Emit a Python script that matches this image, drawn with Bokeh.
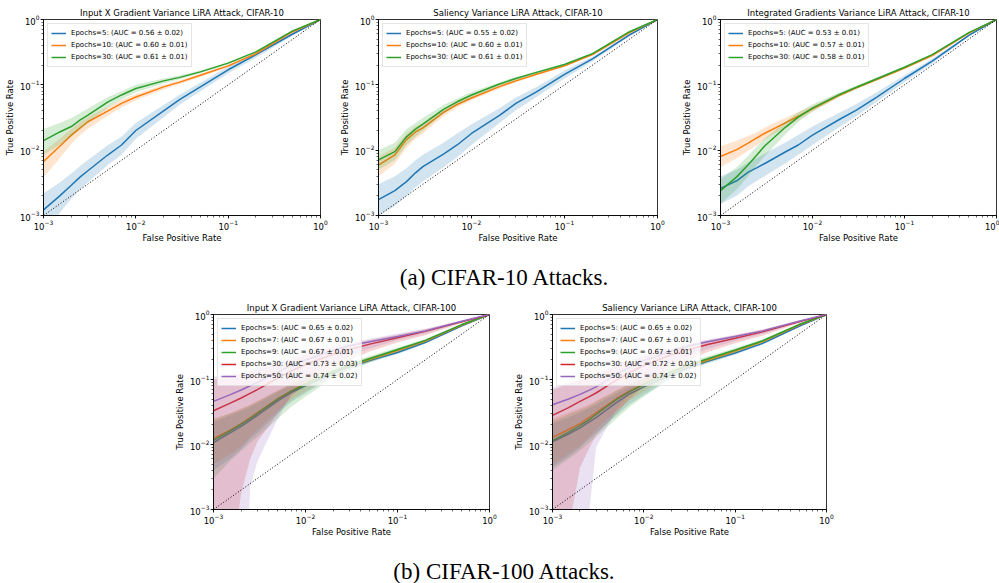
from bokeh.plotting import figure
from bokeh.models import Range1d, Div, Spacer
from bokeh.layouts import column, row
from bokeh.embed import file_html
from bokeh.resources import INLINE

# ---------------- data ----------------
FPR = [0.001, 0.0015, 0.002, 0.0025, 0.003, 0.005, 0.007, 0.01, 0.02, 0.03, 0.05, 0.1, 0.2, 0.5, 1.0]
DIAG = [0.001, 1.0]

# Plot 1: Input X Gradient, CIFAR-10
P1_E5_MEAN = [1.22e-3, 2.0e-3, 2.9e-3, 3.9e-3, 4.8e-3, 8.5e-3, 0.012, 0.020, 0.040, 0.060, 0.093, 0.17, 0.29, 0.6, 1.0]
P1_E5_LO = [5e-4, 1.1e-3, 1.8e-3, 2.5e-3, 3.2e-3, 6e-3, 8.5e-3, 0.015, 0.032, 0.05, 0.08, 0.15, 0.26, 0.57, 1.0]
P1_E5_HI = [2.2e-3, 3.2e-3, 4.4e-3, 5.7e-3, 7e-3, 0.012, 0.016, 0.026, 0.049, 0.071, 0.108, 0.19, 0.31, 0.63, 1.0]
P1_E10_MEAN = [6.7e-3, 0.0115, 0.017, 0.022, 0.027, 0.040, 0.052, 0.065, 0.093, 0.11, 0.14, 0.195, 0.30, 0.65, 1.0]
P1_E10_LO = [3.8e-3, 7.5e-3, 0.0125, 0.017, 0.021, 0.034, 0.045, 0.058, 0.085, 0.103, 0.132, 0.186, 0.29, 0.64, 1.0]
P1_E10_HI = [9.5e-3, 0.015, 0.021, 0.027, 0.032, 0.046, 0.059, 0.072, 0.1, 0.118, 0.148, 0.204, 0.31, 0.66, 1.0]
P1_E30_MEAN = [0.014, 0.019, 0.023, 0.029, 0.034, 0.055, 0.07, 0.088, 0.115, 0.13, 0.158, 0.215, 0.32, 0.67, 1.0]
P1_E30_LO = [8.5e-3, 0.012, 0.016, 0.021, 0.026, 0.045, 0.06, 0.077, 0.105, 0.122, 0.15, 0.207, 0.31, 0.66, 1.0]
P1_E30_HI = [0.021, 0.026, 0.031, 0.037, 0.043, 0.065, 0.08, 0.1, 0.125, 0.14, 0.166, 0.224, 0.33, 0.68, 1.0]
P1_LABELS = ["Epochs=5: (AUC = 0.56 \u00b1 0.02)", "Epochs=10: (AUC = 0.60 \u00b1 0.01)", "Epochs=30: (AUC = 0.61 \u00b1 0.01)"]

# Plot 2: Saliency, CIFAR-10
P2_E5_MEAN = [1.75e-3, 2.4e-3, 3.3e-3, 4.5e-3, 5.6e-3, 8.7e-3, 0.012, 0.018, 0.034, 0.052, 0.078, 0.145, 0.25, 0.58, 1.0]
P2_E5_LO = [1.0e-3, 1.4e-3, 2.0e-3, 2.7e-3, 3.3e-3, 5.5e-3, 7.8e-3, 0.012, 0.026, 0.041, 0.065, 0.125, 0.23, 0.55, 1.0]
P2_E5_HI = [3.0e-3, 4.0e-3, 5.3e-3, 7e-3, 8.5e-3, 0.013, 0.018, 0.025, 0.044, 0.064, 0.093, 0.165, 0.27, 0.61, 1.0]
P2_E10_MEAN = [5.9e-3, 8.5e-3, 0.0145, 0.019, 0.022, 0.038, 0.05, 0.063, 0.094, 0.115, 0.145, 0.195, 0.29, 0.63, 1.0]
P2_E10_LO = [4.0e-3, 6.2e-3, 0.011, 0.015, 0.018, 0.033, 0.045, 0.058, 0.088, 0.109, 0.139, 0.189, 0.285, 0.62, 1.0]
P2_E10_HI = [8.0e-3, 0.011, 0.018, 0.023, 0.026, 0.043, 0.055, 0.068, 0.1, 0.121, 0.151, 0.201, 0.3, 0.64, 1.0]
P2_E30_MEAN = [7.1e-3, 9.5e-3, 0.016, 0.021, 0.025, 0.042, 0.055, 0.07, 0.103, 0.125, 0.155, 0.205, 0.30, 0.65, 1.0]
P2_E30_LO = [5.0e-3, 7.0e-3, 0.012, 0.016, 0.02, 0.036, 0.049, 0.063, 0.096, 0.118, 0.148, 0.198, 0.295, 0.64, 1.0]
P2_E30_HI = [0.01, 0.013, 0.021, 0.026, 0.031, 0.049, 0.062, 0.078, 0.11, 0.132, 0.162, 0.212, 0.31, 0.66, 1.0]
P2_LABELS = ["Epochs=5: (AUC = 0.55 \u00b1 0.02)", "Epochs=10: (AUC = 0.60 \u00b1 0.01)", "Epochs=30: (AUC = 0.61 \u00b1 0.01)"]

# Plot 3: Integrated Gradients, CIFAR-10
P3_E5_MEAN = [2.6e-3, 3.4e-3, 4.6e-3, 5.4e-3, 6.2e-3, 9.3e-3, 0.012, 0.017, 0.030, 0.041, 0.065, 0.125, 0.23, 0.57, 1.0]
P3_E5_LO = [1.5e-3, 2.0e-3, 2.8e-3, 3.4e-3, 4.0e-3, 6.2e-3, 8.5e-3, 0.012, 0.023, 0.033, 0.055, 0.11, 0.21, 0.55, 1.0]
P3_E5_HI = [4.0e-3, 5.0e-3, 6.5e-3, 7.6e-3, 8.8e-3, 0.013, 0.017, 0.023, 0.038, 0.051, 0.077, 0.14, 0.25, 0.59, 1.0]
P3_E10_MEAN = [8.0e-3, 0.0102, 0.0128, 0.0155, 0.018, 0.026, 0.033, 0.043, 0.07, 0.09, 0.12, 0.18, 0.28, 0.62, 1.0]
P3_E10_LO = [5.5e-3, 7.5e-3, 9.8e-3, 0.012, 0.0145, 0.022, 0.029, 0.039, 0.066, 0.086, 0.116, 0.175, 0.275, 0.61, 1.0]
P3_E10_HI = [0.0115, 0.014, 0.0165, 0.019, 0.022, 0.031, 0.038, 0.048, 0.075, 0.095, 0.125, 0.186, 0.285, 0.63, 1.0]
P3_E30_MEAN = [2.4e-3, 3.9e-3, 6.0e-3, 8.5e-3, 0.0115, 0.022, 0.032, 0.044, 0.072, 0.092, 0.124, 0.186, 0.29, 0.63, 1.0]
P3_E30_LO = [1.5e-3, 2.5e-3, 4.0e-3, 6e-3, 8.0e-3, 0.017, 0.027, 0.039, 0.067, 0.087, 0.118, 0.18, 0.285, 0.62, 1.0]
P3_E30_HI = [3.6e-3, 5.5e-3, 8.2e-3, 0.0115, 0.015, 0.027, 0.038, 0.05, 0.078, 0.098, 0.13, 0.192, 0.295, 0.64, 1.0]
P3_LABELS = ["Epochs=5: (AUC = 0.53 \u00b1 0.01)", "Epochs=10: (AUC = 0.57 \u00b1 0.01)", "Epochs=30: (AUC = 0.58 \u00b1 0.01)"]

# Plot 4: Input X Gradient, CIFAR-100
P4_E5_MEAN = [0.0107, 0.015, 0.019, 0.0235, 0.028, 0.047, 0.063, 0.08, 0.125, 0.155, 0.195, 0.26, 0.37, 0.67, 1.0]
P4_E5_LO = [0.004, 0.006, 0.0085, 0.012, 0.015, 0.03, 0.045, 0.062, 0.11, 0.14, 0.182, 0.245, 0.355, 0.65, 1.0]
P4_E5_HI = [0.022, 0.028, 0.033, 0.038, 0.043, 0.064, 0.08, 0.097, 0.14, 0.17, 0.21, 0.275, 0.385, 0.69, 1.0]
P4_E7_MEAN = [0.0124, 0.0165, 0.021, 0.026, 0.031, 0.051, 0.067, 0.086, 0.132, 0.163, 0.205, 0.28, 0.39, 0.69, 1.0]
P4_E7_LO = [0.005, 0.007, 0.0095, 0.013, 0.017, 0.033, 0.048, 0.066, 0.115, 0.147, 0.19, 0.262, 0.372, 0.67, 1.0]
P4_E7_HI = [0.025, 0.03, 0.036, 0.041, 0.047, 0.068, 0.085, 0.104, 0.148, 0.178, 0.22, 0.297, 0.405, 0.71, 1.0]
P4_E9_MEAN = [0.0117, 0.016, 0.0205, 0.025, 0.03, 0.05, 0.066, 0.085, 0.133, 0.166, 0.21, 0.29, 0.40, 0.70, 1.0]
P4_E9_LO = [0.003, 0.0055, 0.008, 0.0105, 0.013, 0.025, 0.038, 0.055, 0.105, 0.14, 0.185, 0.265, 0.375, 0.68, 1.0]
P4_E9_HI = [0.024, 0.03, 0.035, 0.04, 0.046, 0.068, 0.086, 0.106, 0.155, 0.185, 0.23, 0.31, 0.42, 0.72, 1.0]
P4_E30_MEAN = [0.033, 0.043, 0.052, 0.061, 0.07, 0.105, 0.135, 0.17, 0.245, 0.29, 0.35, 0.44, 0.55, 0.77, 1.0]
P4_E30_LO = [1e-6, 1e-4, 1.8e-3, 6e-3, 0.011, 0.03, 0.055, 0.085, 0.155, 0.2, 0.27, 0.37, 0.48, 0.74, 1.0]
P4_E30_HI = [0.1, 0.11, 0.12, 0.13, 0.14, 0.17, 0.2, 0.24, 0.31, 0.35, 0.41, 0.49, 0.6, 0.8, 1.0]
P4_E50_MEAN = [0.046, 0.058, 0.069, 0.08, 0.09, 0.13, 0.165, 0.2, 0.28, 0.33, 0.38, 0.46, 0.56, 0.79, 1.0]
P4_E50_LO = [1e-6, 1e-6, 1e-6, 2.2e-3, 5.5e-3, 0.025, 0.06, 0.1, 0.18, 0.23, 0.3, 0.4, 0.5, 0.76, 1.0]
P4_E50_HI = [0.11, 0.12, 0.13, 0.14, 0.15, 0.19, 0.22, 0.26, 0.33, 0.37, 0.42, 0.51, 0.6, 0.81, 1.0]
P4_LABELS = ["Epochs=5: (AUC = 0.65 \u00b1 0.02)", "Epochs=7: (AUC = 0.67 \u00b1 0.01)", "Epochs=9: (AUC = 0.67 \u00b1 0.01)",
             "Epochs=30: (AUC = 0.73 \u00b1 0.03)", "Epochs=50: (AUC = 0.74 \u00b1 0.02)"]

# Plot 5: Saliency, CIFAR-100
P5_E5_MEAN = [0.011, 0.0145, 0.018, 0.022, 0.026, 0.044, 0.06, 0.077, 0.12, 0.15, 0.19, 0.255, 0.36, 0.66, 1.0]
P5_E5_LO = [0.0045, 0.0065, 0.009, 0.012, 0.015, 0.028, 0.042, 0.058, 0.105, 0.135, 0.176, 0.24, 0.345, 0.64, 1.0]
P5_E5_HI = [0.021, 0.026, 0.031, 0.036, 0.041, 0.061, 0.077, 0.095, 0.136, 0.165, 0.205, 0.27, 0.375, 0.68, 1.0]
P5_E7_MEAN = [0.0128, 0.017, 0.021, 0.026, 0.031, 0.051, 0.067, 0.085, 0.13, 0.16, 0.2, 0.275, 0.385, 0.69, 1.0]
P5_E7_LO = [0.005, 0.0072, 0.0095, 0.013, 0.017, 0.033, 0.048, 0.065, 0.113, 0.145, 0.186, 0.258, 0.368, 0.67, 1.0]
P5_E7_HI = [0.025, 0.031, 0.036, 0.041, 0.047, 0.068, 0.085, 0.104, 0.147, 0.176, 0.215, 0.292, 0.4, 0.71, 1.0]
P5_E9_MEAN = [0.0115, 0.0155, 0.0195, 0.024, 0.029, 0.049, 0.065, 0.084, 0.132, 0.165, 0.208, 0.285, 0.395, 0.70, 1.0]
P5_E9_LO = [0.004, 0.006, 0.008, 0.0105, 0.013, 0.025, 0.038, 0.055, 0.104, 0.138, 0.182, 0.26, 0.37, 0.68, 1.0]
P5_E9_HI = [0.023, 0.029, 0.034, 0.039, 0.045, 0.067, 0.085, 0.105, 0.153, 0.185, 0.228, 0.305, 0.415, 0.72, 1.0]
P5_E30_MEAN = [0.028, 0.037, 0.046, 0.054, 0.062, 0.098, 0.128, 0.165, 0.24, 0.285, 0.345, 0.43, 0.54, 0.77, 1.0]
P5_E30_LO = [1e-6, 5e-4, 4.4e-3, 8.5e-3, 0.014, 0.03, 0.05, 0.08, 0.15, 0.195, 0.265, 0.36, 0.47, 0.74, 1.0]
P5_E30_HI = [0.07, 0.085, 0.1, 0.11, 0.12, 0.16, 0.19, 0.23, 0.3, 0.345, 0.4, 0.48, 0.59, 0.8, 1.0]
P5_E50_MEAN = [0.041, 0.05, 0.059, 0.068, 0.077, 0.12, 0.155, 0.195, 0.275, 0.325, 0.38, 0.46, 0.56, 0.79, 1.0]
P5_E50_LO = [1e-6, 1e-6, 1e-6, 8e-4, 9e-3, 0.035, 0.06, 0.095, 0.175, 0.225, 0.295, 0.39, 0.5, 0.76, 1.0]
P5_E50_HI = [0.075, 0.09, 0.1, 0.11, 0.12, 0.165, 0.2, 0.24, 0.31, 0.36, 0.41, 0.49, 0.59, 0.81, 1.0]
P5_LABELS = ["Epochs=5: (AUC = 0.65 \u00b1 0.02)", "Epochs=7: (AUC = 0.67 \u00b1 0.01)", "Epochs=9: (AUC = 0.67 \u00b1 0.01)",
             "Epochs=30: (AUC = 0.72 \u00b1 0.03)", "Epochs=50: (AUC = 0.74 \u00b1 0.02)"]

TITLES = ["Input X Gradient Variance LiRA Attack, CIFAR-10",
          "Saliency Variance LiRA Attack, CIFAR-10",
          "Integrated Gradients Variance LiRA Attack, CIFAR-10",
          "Input X Gradient Variance LiRA Attack, CIFAR-100",
          "Saliency Variance LiRA Attack, CIFAR-100"]
CAPTIONS = ["(a) CIFAR-10 Attacks.", "(b) CIFAR-100 Attacks."]
X_LABEL = "False Positive Rate"
Y_LABEL = "True Positive Rate"

COLORS = ["#1f77b4", "#ff7f0e", "#2ca02c", "#d62728", "#9467bd"]
FONT = "DejaVu Sans"


def make_fig(title, series, labels, left, frame_w, right, frame_h, bottom, top=19):
    p = figure(width=left + frame_w + right, height=top + frame_h + bottom,
               x_axis_type="log", y_axis_type="log",
               x_range=Range1d(1e-3, 1.0), y_range=Range1d(1e-3, 1.0),
               output_backend="svg", toolbar_location=None,
               min_border_left=left, min_border_right=right,
               min_border_top=top, min_border_bottom=bottom)
    p.title.text = title
    p.title.align = "center"
    p.title.text_font = FONT
    p.title.text_font_size = "8.5px"
    p.title.text_font_style = "normal"
    p.title.text_color = "black"
    p.title.standoff = 3
    p.xgrid.visible = False
    p.ygrid.visible = False
    p.outline_line_color = "black"
    p.outline_line_width = 0.8
    p.background_fill_color = "white"
    p.border_fill_color = "white"
    for ax in (p.xaxis[0], p.yaxis[0]):
        ax.axis_line_color = "black"
        ax.axis_line_width = 0.8
        ax.major_tick_out = 3
        ax.major_tick_in = 0
        ax.minor_tick_out = 2
        ax.minor_tick_in = 0
        ax.major_tick_line_color = "black"
        ax.minor_tick_line_color = "black"
        ax.major_tick_line_width = 0.8
        ax.minor_tick_line_width = 0.6
        ax.major_label_text_font = FONT
        ax.major_label_text_font_size = "8.5px"
        ax.major_label_text_color = "black"
        ax.major_label_standoff = 1
        ax.axis_label_text_font = FONT
        ax.axis_label_text_font_size = "8.5px"
        ax.axis_label_text_font_style = "normal"
        ax.axis_label_text_color = "black"
        ax.axis_label_standoff = 2
    p.xaxis.axis_label = X_LABEL
    p.yaxis.axis_label = Y_LABEL
    p.xaxis.axis_label_standoff = 0

    for i, (mean, lo, hi) in enumerate(series):
        c = COLORS[i]
        p.line(FPR, mean, line_color=c, line_width=1.5, legend_label=labels[i])
        p.varea(x=FPR, y1=lo, y2=hi, fill_color=c, fill_alpha=0.2)
    p.line(DIAG, DIAG, line_color="black", line_width=1.0, line_dash="1 2")

    lg = p.legend[0]
    lg.location = "top_left"
    lg.label_text_font = FONT
    lg.label_text_font_size = "7px"
    lg.label_text_color = "black"
    lg.glyph_width = 15
    lg.glyph_height = 12
    lg.label_height = 12
    lg.spacing = 0
    lg.padding = 3
    lg.margin = 4
    lg.label_standoff = 5
    lg.border_line_color = "#cccccc"
    lg.border_line_width = 1
    lg.background_fill_alpha = 0.8
    return p


f1 = make_fig(TITLES[0], [(P1_E5_MEAN, P1_E5_LO, P1_E5_HI), (P1_E10_MEAN, P1_E10_LO, P1_E10_HI),
                          (P1_E30_MEAN, P1_E30_LO, P1_E30_HI)], P1_LABELS, 43, 277, 15, 196, 35)
f2 = make_fig(TITLES[1], [(P2_E5_MEAN, P2_E5_LO, P2_E5_HI), (P2_E10_MEAN, P2_E10_LO, P2_E10_HI),
                          (P2_E30_MEAN, P2_E30_LO, P2_E30_HI)], P2_LABELS, 43, 279, 11, 196, 35)
f3 = make_fig(TITLES[2], [(P3_E5_MEAN, P3_E5_LO, P3_E5_HI), (P3_E10_MEAN, P3_E10_LO, P3_E10_HI),
                          (P3_E30_MEAN, P3_E30_LO, P3_E30_HI)], P3_LABELS, 52, 276, 3, 196, 35)
f4 = make_fig(TITLES[3], [(P4_E5_MEAN, P4_E5_LO, P4_E5_HI), (P4_E7_MEAN, P4_E7_LO, P4_E7_HI),
                          (P4_E9_MEAN, P4_E9_LO, P4_E9_HI), (P4_E30_MEAN, P4_E30_LO, P4_E30_HI),
                          (P4_E50_MEAN, P4_E50_LO, P4_E50_HI)], P4_LABELS, 43, 276, 11, 195, 36)
f5 = make_fig(TITLES[4], [(P5_E5_MEAN, P5_E5_LO, P5_E5_HI), (P5_E7_MEAN, P5_E7_LO, P5_E7_HI),
                          (P5_E9_MEAN, P5_E9_LO, P5_E9_HI), (P5_E30_MEAN, P5_E30_LO, P5_E30_HI),
                          (P5_E50_MEAN, P5_E50_LO, P5_E50_HI)], P5_LABELS, 52, 274, 10, 195, 36)


def caption(text, pad, h):
    html = ('<div style="font-family: \'Liberation Serif\', \'Times New Roman\', serif; font-size: 23px; '
            'line-height: 23px; padding-top: %dpx; text-align: center; color: black; width: 990px;">%s</div>'
            % (pad, text))
    return Div(text=html, width=990, height=h, margin=0)


cap_a = caption(CAPTIONS[0], 16, 45)
cap_b = caption(CAPTIONS[1], 15, 38)

layout = column(
    row(f1, f2, f3, spacing=0),
    row(Spacer(width=9, height=45, margin=0), cap_a, spacing=0),
    row(Spacer(width=170, height=250, margin=0), f4, f5, spacing=0),
    row(Spacer(width=9, height=38, margin=0), cap_b, spacing=0),
    spacing=0,
)

open("out.html", "w").write(file_html(layout, INLINE))
